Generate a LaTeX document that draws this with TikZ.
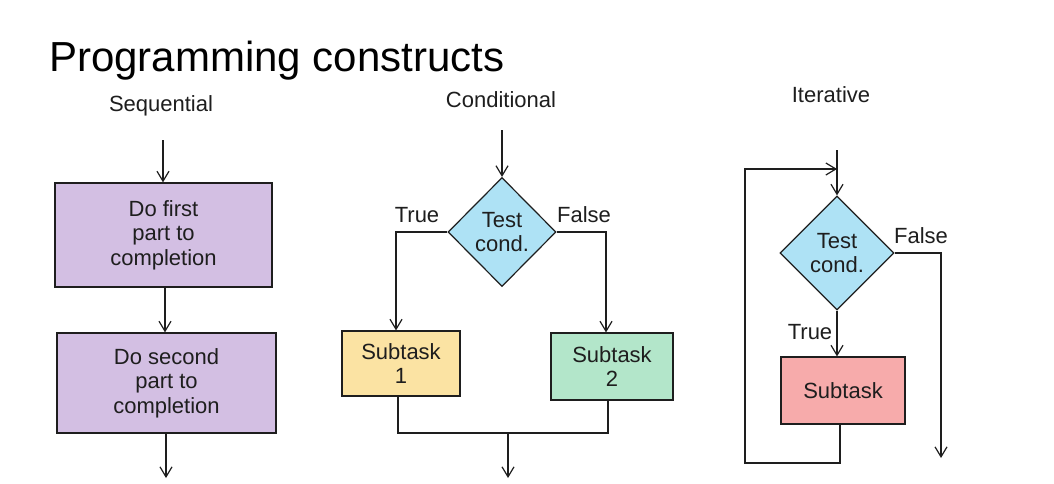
\documentclass[tikz,border=0pt]{standalone}
\usepackage{fontspec}
\setmainfont{Liberation Sans}
\usetikzlibrary{arrows.meta,shapes.geometric,calc}
\definecolor{cpurple}{HTML}{D3BFE3}
\definecolor{cblue}{HTML}{AEE2F5}
\definecolor{cyellow}{HTML}{FBE3A3}
\definecolor{cgreen}{HTML}{B3E6CA}
\definecolor{cred}{HTML}{F7ABAB}
\definecolor{ink}{HTML}{1E1E1E}
\tikzset{
  lbl/.style={font=\fontsize{22}{24.5}\selectfont, text=ink, anchor=base, inner sep=0pt},
  box/.style={draw=ink, line width=1.2pt, rectangle, inner sep=0pt, align=center,
              font=\fontsize{22}{24.5}\selectfont, text=ink},
  dia/.style={draw=ink, line width=1.2pt, diamond, inner sep=0pt, align=center,
              fill=cblue, font=\fontsize{22}{24.5}\selectfont, text=ink},
  conn/.style={draw=ink, line width=1.2pt},
  arr/.style={conn, -{Straight Barb[length=10pt,width=12pt,line width=1.2pt]}}
}
\begin{document}
\begin{tikzpicture}[x=1pt,y=-1pt]
\useasboundingbox[fill=white] (0,0) rectangle (1054,483);
% title
\node[font=\fontsize{42}{46}\selectfont, text=black, anchor=base west, inner sep=0pt] (title) at (49,71) {Programming constructs};
% ---------- Sequential ----------
\node[lbl] (lseq) at (161,111) {Sequential};
\node[box, fill=cpurple, minimum width=217pt, minimum height=104pt] (b1) at (163.5,235) {Do first\\part to\\completion};
\node[box, fill=cpurple, minimum width=219pt, minimum height=100pt] (b2) at (166.5,383) {Do second\\part to\\completion};
\coordinate (s0) at (163,140);
\coordinate (sm) at (165,300);
\coordinate (s1) at (166,478);
\draw[arr] (s0) -- (s0 |- b1.north);
\draw[arr] (sm |- b1.south) -- (sm |- b2.north);
\draw[arr] (b2.south -| s1) -- (s1);
% ---------- Conditional ----------
\node[lbl] (lcond) at (501,107) {Conditional};
\node[dia, minimum width=108pt, minimum height=109pt] (d1) at (502,232) {Test\\cond.};
\node[box, fill=cyellow, minimum width=118pt, minimum height=65pt] (t1) at (401,363.5) {Subtask\\1};
\node[box, fill=cgreen, minimum width=122pt, minimum height=67pt] (t2) at (612,366.5) {Subtask\\2};
\node[lbl] (ltrue1) at (417,222) {True};
\node[lbl] (lfalse1) at (584,222) {False};
\coordinate (c0) at (502,130);
\coordinate (c1) at (508,478);
\coordinate (cm) at (508,433);
\draw[arr] (c0) -- (d1.north);
\draw[arr] (d1.west) -| ([xshift=-5pt]t1.north);
\draw[arr] (d1.east) -| ([xshift=-6pt]t2.north);
\draw[conn] ([xshift=-3pt]t1.south) |- (cm) -| ([xshift=-4pt]t2.south);
\draw[arr] (cm) -- (c1);
% ---------- Iterative ----------
\node[lbl] (liter) at (831,102) {Iterative};
\node[dia, minimum width=114pt, minimum height=114pt] (d2) at (837,253) {Test\\cond.};
\node[box, fill=cred, minimum width=124pt, minimum height=67pt] (t3) at (843,390.5) {Subtask};
\node[lbl] (ltrue2) at (810,339) {True};
\node[lbl] (lfalse2) at (921,243) {False};
\coordinate (i0) at (837,150);
\coordinate (j) at (837,169);
\coordinate (lp) at (745,463);
\coordinate (f) at (941,458);
\draw[arr] (i0) -- (d2.north);
\draw[arr] (d2.south) -- (d2.south |- t3.north);
\draw[arr] (d2.east) -| (f);
\draw[arr] ([xshift=-3pt]t3.south) |- (lp) |- (j);
\end{tikzpicture}
\end{document}
